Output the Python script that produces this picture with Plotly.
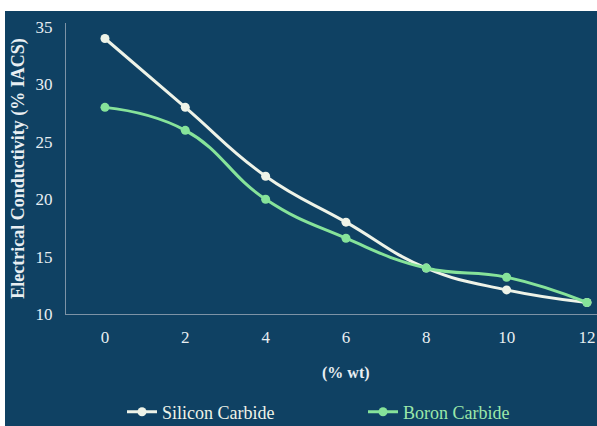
import plotly.graph_objects as go

wt = [0, 2, 4, 6, 8, 10, 12]
silicon = [34, 28, 22, 18, 14, 12.1, 11]
boron = [28, 26, 20, 16.6, 14, 13.2, 11]
x_ticks = [0, 2, 4, 6, 8, 10, 12]
y_ticks = [10, 15, 20, 25, 30, 35]

BG = "#0F4163"
OX, OY = 5, 11            # white border of the picture (left, top)
W, H = 597 - OX, 426 - OY  # size of the dark chart
ML, MR, MT, MB = 66 - OX, 0, 23 - OY, 426 - 314
PW, PH = W - ML - MR, H - MT - MB

font_family = "Liberation Serif, Times New Roman, serif"
TXT = "#E8EEF2"

fig = go.Figure()
fig.add_trace(go.Scatter(x=wt, y=silicon, name="Silicon Carbide", mode="lines+markers",
                         line=dict(color="#EEF3E8", width=3, shape="spline", smoothing=1.3),
                         marker=dict(size=9, color="#EEF3E8"), legend="legend"))
fig.add_trace(go.Scatter(x=wt, y=boron, name="Boron Carbide", mode="lines+markers",
                         line=dict(color="#86E39A", width=3, shape="spline", smoothing=1.3),
                         marker=dict(size=9, color="#86E39A"), legend="legend2"))

def cx(px):
    return (px - OX) / W

def cy(py):
    return 1 - (py - OY) / H

def legend_at(px, py, color):
    return dict(orientation="h", xref="container", yref="container",
                x=cx(px), xanchor="left", y=cy(py), yanchor="middle",
                font=dict(size=18, color=color, family=font_family),
                bgcolor="rgba(0,0,0,0)")

fig.add_annotation(text="<b>(% wt)</b>", xref="paper", yref="paper",
                   x=(346 - 66) / PW, y=1 - (373 - 23) / PH,
                   xanchor="center", yanchor="middle", showarrow=False,
                   font=dict(size=16, color=TXT, family=font_family))

fig.update_layout(
    width=W, height=H,
    margin=dict(l=ML, r=MR, t=MT, b=MB),
    paper_bgcolor=BG, plot_bgcolor=BG,
    font=dict(family=font_family, color=TXT, size=17),
    showlegend=True,
    legend=legend_at(122, 412, "#EEF3E8"),
    legend2=legend_at(363, 412, "#9BE8AA"),
    xaxis=dict(range=[-0.97, 12.25], tickvals=x_ticks, showgrid=False, zeroline=False,
               showline=True, linecolor="#7D93A6", linewidth=1, automargin=False,
               ticks="", ticklabelstandoff=8,
               tickfont=dict(size=17, color=TXT)),
    yaxis=dict(range=[10, 35.35], tickvals=y_ticks, showgrid=False, zeroline=False,
               showline=True, linecolor="#7D93A6", linewidth=1, automargin=False,
               ticks="", ticklabelstandoff=9,
               tickfont=dict(size=17, color=TXT),
               title=dict(text="<b>Electrical Conductivity (% IACS)</b>",
                          font=dict(size=18, color=TXT), standoff=6)),
)

post = ("document.body.style.margin='0';"
        "document.body.style.background='white';"
        "var gd=document.getElementById('{plot_id}');"
        "gd.style.marginLeft='5px';gd.style.marginTop='11px';")
fig.write_html("out.html", post_script=post, config={"displayModeBar": False})
